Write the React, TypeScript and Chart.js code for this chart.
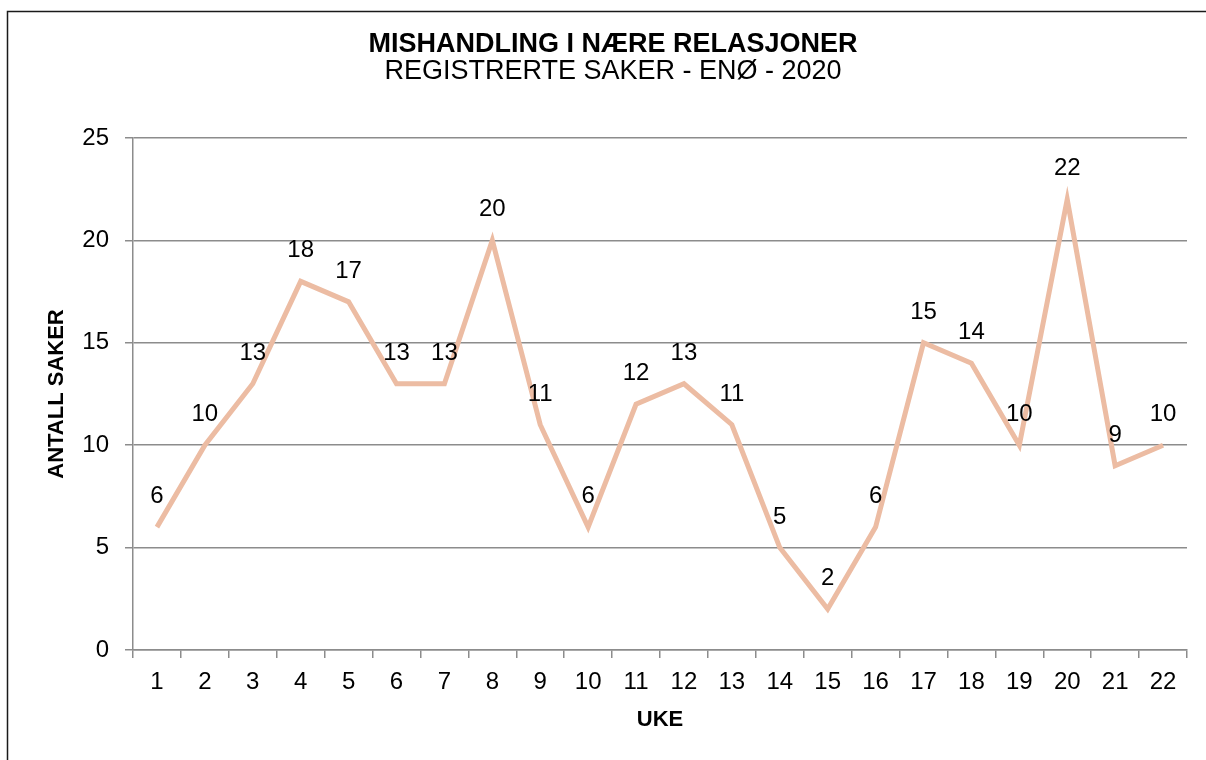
import React, { useEffect, useRef } from "react";
import { Chart, registerables } from "chart.js";

Chart.register(...registerables);

const titleText = "MISHANDLING I NÆRE RELASJONER";
const subtitleText = "REGISTRERTE SAKER - ENØ - 2020";
const xAxisTitle = "UKE";
const yAxisTitle = "ANTALL SAKER";
const weeks = ["1","2","3","4","5","6","7","8","9","10","11","12","13","14","15","16","17","18","19","20","21","22"];
const cases = [6, 10, 13, 18, 17, 13, 13, 20, 11, 6, 12, 13, 11, 5, 2, 6, 15, 14, 10, 22, 9, 10];

const FONT = "'Liberation Sans', Arial, sans-serif";
const GRID = "#8c8c8c";
const LINE = "#ecbca3";

const framePlugin = {
  id: "frame",
  beforeDraw(chart: any) {
    const ctx = chart.ctx;
    ctx.save();
    ctx.fillStyle = "#ffffff";
    ctx.fillRect(0, 0, chart.width, chart.height);
    ctx.strokeStyle = "#1a1a1a";
    ctx.lineWidth = 1.5;
    ctx.strokeRect(7.5, 11.5, 1400, 900);
    ctx.restore();
  },
};

const labelPlugin = {
  id: "valueLabels",
  afterDatasetsDraw(chart: any) {
    const ctx = chart.ctx;
    const meta = chart.getDatasetMeta(0);
    const data = chart.data.datasets[0].data as number[];
    ctx.save();
    ctx.font = `24px ${FONT}`;
    ctx.fillStyle = "#000";
    ctx.textAlign = "center";
    ctx.textBaseline = "alphabetic";
    meta.data.forEach((el: any, i: number) => {
      ctx.fillText(String(data[i]), el.x, el.y - 24);
    });
    ctx.restore();
  },
};

export default function App() {
  const ref = useRef<HTMLCanvasElement>(null);
  useEffect(() => {
    if (!ref.current) return;
    const chart = new Chart(ref.current, {
      type: "line",
      data: {
        labels: weeks,
        datasets: [
          {
            data: cases,
            borderColor: LINE,
            borderWidth: 5,
            pointRadius: 0,
            tension: 0,
            fill: false,
          },
        ],
      },
      options: {
        animation: false,
        responsive: false,
        maintainAspectRatio: false,
        layout: { padding: { left: 39, right: 19, top: 0, bottom: 0 } },
        plugins: {
          legend: { display: false },
          tooltip: { enabled: false },
          title: {
            display: true,
            text: titleText,
            color: "#000",
            font: { family: FONT, size: 27, weight: "bold", lineHeight: 1 },
            padding: { top: 31, bottom: 0 },
          },
          subtitle: {
            display: true,
            text: subtitleText,
            color: "#000",
            font: { family: FONT, size: 27, weight: "normal", lineHeight: 1 },
            padding: { top: 0, bottom: 53 },
          },
        },
        scales: {
          x: {
            type: "category",
            offset: true,
            afterFit(scale: any) {
              scale.height = 110;
            },
            grid: {
              offset: true,
              drawOnChartArea: false,
              drawTicks: true,
              tickLength: 8,
              color: GRID,
              lineWidth: 1.5,
            },
            border: { display: true, color: GRID, width: 1.5 },
            ticks: {
              color: "#000",
              font: { family: FONT, size: 24 },
              padding: 10,
              autoSkip: false,
              maxRotation: 0,
            },
            title: {
              display: true,
              text: xAxisTitle,
              color: "#000",
              font: { family: FONT, size: 22, weight: "bold" },
              padding: { top: 0, bottom: 27 },
            },
          },
          y: {
            min: 0,
            max: 25,
            afterFit(scale: any) {
              scale.width = 94;
            },
            grid: {
              color: GRID,
              lineWidth: 1.5,
              tickLength: 8,
              drawTicks: true,
            },
            border: { display: true, color: GRID, width: 1.5 },
            ticks: {
              stepSize: 5,
              color: "#000",
              font: { family: FONT, size: 24 },
              padding: 16,
            },
            title: {
              display: true,
              text: yAxisTitle,
              color: "#000",
              font: { family: FONT, size: 22, weight: "bold" },
              padding: { top: 5, bottom: 0 },
            },
          },
        },
      },
      plugins: [framePlugin, labelPlugin],
    });
    return () => chart.destroy();
  }, []);

  return (
    <div style={{ position: "fixed", left: 0, top: 0, width: 1206, height: 760, overflow: "hidden", background: "#fff" }}>
      <canvas ref={ref} width={1206} height={760} style={{ display: "block", width: 1206, height: 760 }} />
    </div>
  );
}
